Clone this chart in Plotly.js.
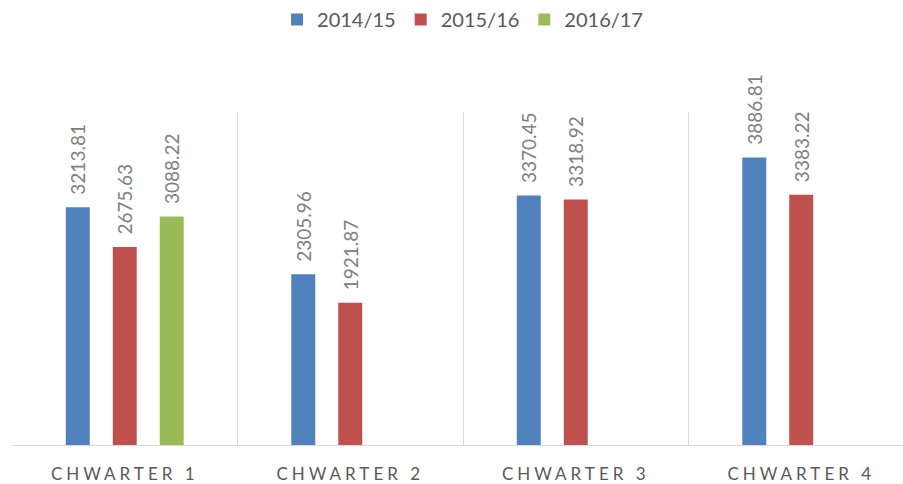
<!DOCTYPE html>
<html>
<head>
<meta charset="utf-8">
<script src="https://cdn.plot.ly/plotly-3.0.1.min.js"></script>
<style>
  html, body { margin: 0; padding: 0; overflow: hidden; background: #fff; }
  #chart { width: 916px; height: 484px; }
  .xtick text { letter-spacing: 4px; }
</style>
</head>
<body>
<div id="chart"></div>
<script>
const categories = ["CHWARTER 1", "CHWARTER 2", "CHWARTER 3", "CHWARTER 4"];
const seriesNames = ["2014/15", "2015/16", "2016/17"];
const values2014 = [3213.81, 2305.96, 3370.45, 3886.81];
const values2015 = [2675.63, 1921.87, 3318.92, 3383.22];
const values2016 = [3088.22, null, null, null];
const colors = ["#4f81bd", "#c0504d", "#9bbb59"];

const allValues = [values2014, values2015, values2016];
const traces = allValues.map((vals, i) => ({
  type: "bar",
  name: seriesNames[i],
  x: categories,
  y: vals,
  marker: { color: colors[i] },
  texttemplate: "\u2002%{y:.2f}",
  textposition: "outside",
  textangle: -90,
  constraintext: "none",
  cliponaxis: false,
  textfont: { family: "Lato, 'Open Sans', sans-serif", size: 19, color: "#808080" },
  hoverinfo: "x+y"
}));

const layout = {
  width: 916,
  height: 484,
  margin: { l: 12, r: 2, t: 112, b: 39 },
  paper_bgcolor: "#ffffff",
  plot_bgcolor: "#ffffff",
  barmode: "group",
  bargap: 0.375,
  bargroupgap: 0.49,
  showlegend: true,
  legend: {
    orientation: "h",
    x: 0.4995,
    xanchor: "center",
    yref: "container",
    y: 1,
    yanchor: "top",
    font: { family: "Lato, 'Open Sans', sans-serif", size: 20, color: "#595959" },
    traceorder: "normal"
  },
  xaxis: {
    type: "category",
    tickson: "boundaries",
    showgrid: true,
    gridcolor: "#d9d9d9",
    gridwidth: 1,
    showline: true,
    linecolor: "#d9d9d9",
    linewidth: 1,
    ticks: "",
    ticklabelstandoff: 14,
    tickfont: { family: "Lato, 'Open Sans', sans-serif", size: 17, color: "#595959" },
    fixedrange: true
  },
  yaxis: {
    range: [0, 4500],
    showgrid: false,
    zeroline: false,
    showticklabels: false,
    showline: false,
    fixedrange: true
  }
};

Plotly.newPlot("chart", traces, layout, { displayModeBar: false, staticPlot: true });
</script>
</body>
</html>
